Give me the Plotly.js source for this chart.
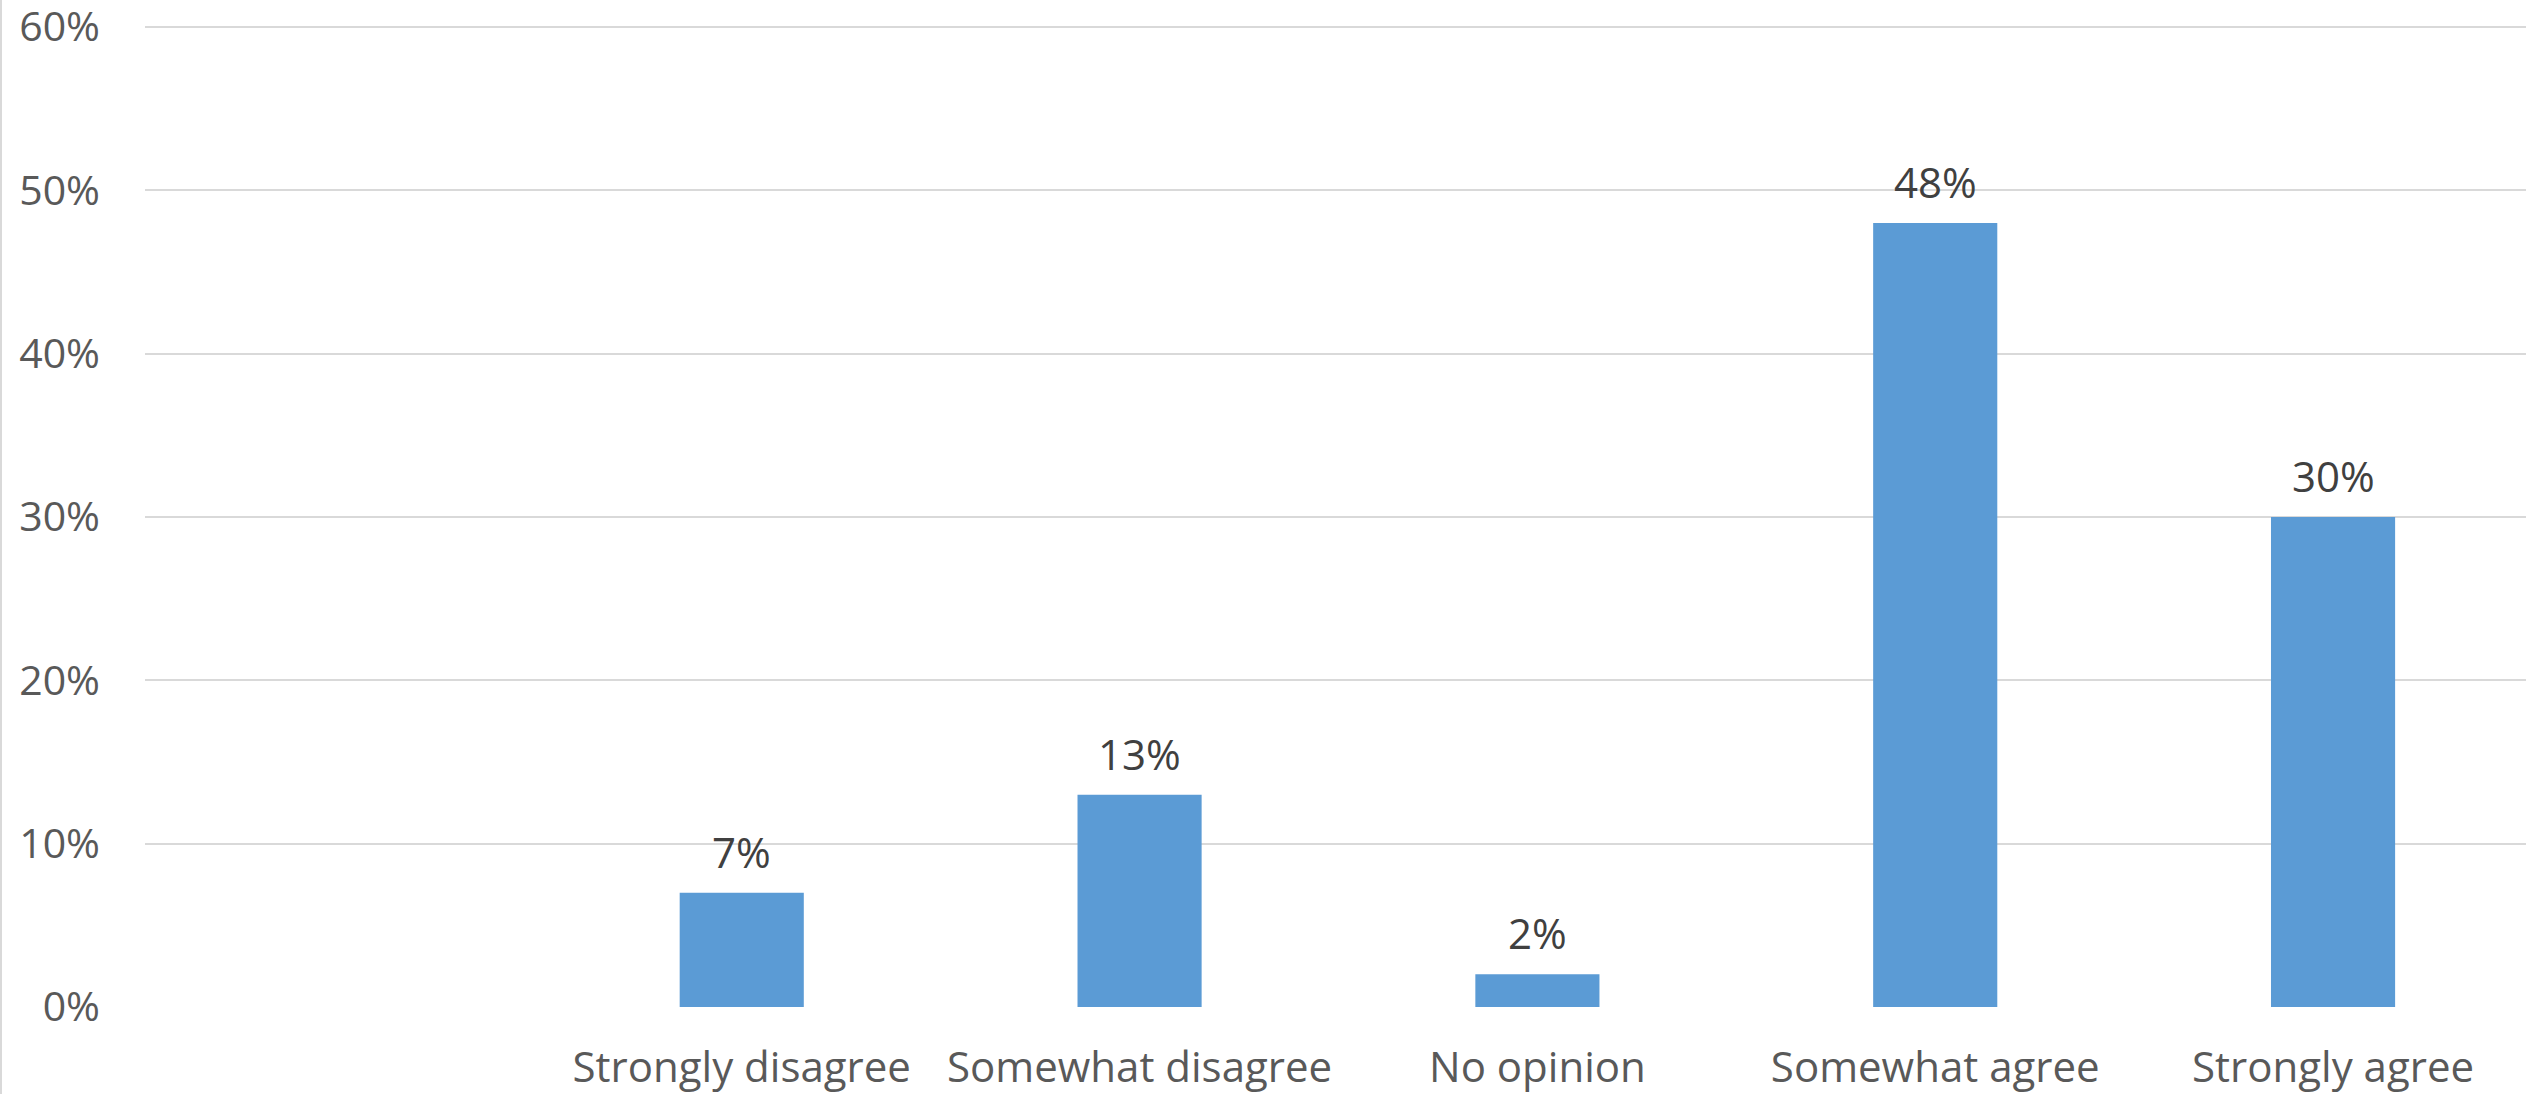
<!DOCTYPE html>
<html>
<head>
<meta charset="utf-8">
<script src="https://cdn.plot.ly/plotly-3.0.1.min.js"></script>
<style>
  html, body { margin: 0; padding: 0; background: #ffffff; }
  #wrap { position: relative; width: 2526px; height: 1094px; overflow: hidden; }
  #chart { position: absolute; left: 0; top: 0; width: 2526px; height: 1094px; }
  #edge { position: absolute; left: 0; top: 0; width: 2px; height: 1094px; background: #d9d9d9; }
</style>
</head>
<body>
<div id="wrap">
  <div id="chart"></div>
  <div id="edge"></div>
</div>
<script>
// Survey responses (share of respondents); the leading slot is an empty category
const categories = [" ", "Strongly disagree", "Somewhat disagree", "No opinion", "Somewhat agree", "Strongly agree"];
const shares = [null, 0.07, 0.13, 0.02, 0.48, 0.30];
const yTickValues = [0, 0.1, 0.2, 0.3, 0.4, 0.5, 0.6];
const yTickLabels = ["0%", "10%", "20%", "30%", "40%", "50%", "60%"];

const FONT = "Open Sans, Liberation Sans, sans-serif";

const trace = {
  type: "bar",
  x: categories,
  y: shares,
  marker: { color: "#5b9bd5", line: { width: 0 } },
  hoverinfo: "skip"
};

// Value labels sit above each bar
const labels = [];
categories.forEach((c, i) => {
  if (shares[i] === null) return;
  labels.push({
    x: c,
    y: shares[i],
    xref: "x",
    yref: "y",
    text: Math.round(shares[i] * 100) + "%",
    showarrow: false,
    yanchor: "bottom",
    yshift: 11,
    font: { family: FONT, size: 42, color: "#404040" }
  });
});

const layout = {
  width: 2526,
  height: 1094,
  // a little headroom above 60% keeps the top gridline drawn
  margin: { l: 145, r: 0, t: 24, b: 87, pad: 0 },
  paper_bgcolor: "#ffffff",
  plot_bgcolor: "#ffffff",
  showlegend: false,
  bargap: 0.688,
  xaxis: {
    type: "category",
    categoryorder: "array",
    categoryarray: categories,
    range: [-0.5, 5.485],
    showgrid: false,
    zeroline: false,
    showline: false,
    ticks: "",
    ticklabelstandoff: 32,
    ticklabeloverflow: "allow",
    tickfont: { family: FONT, size: 42, color: "#595959" }
  },
  yaxis: {
    range: [0, 0.6018],
    tickvals: yTickValues,
    ticktext: yTickLabels,
    showgrid: true,
    gridcolor: "#d9d9d9",
    gridwidth: 2,
    zeroline: false,
    showline: false,
    ticks: "",
    ticklabelstandoff: 44,
    ticklabeloverflow: "allow",
    tickfont: { family: FONT, size: 41, color: "#595959" }
  },
  annotations: labels
};

Plotly.newPlot("chart", [trace], layout, { displayModeBar: false, staticPlot: true });
</script>
</body>
</html>
